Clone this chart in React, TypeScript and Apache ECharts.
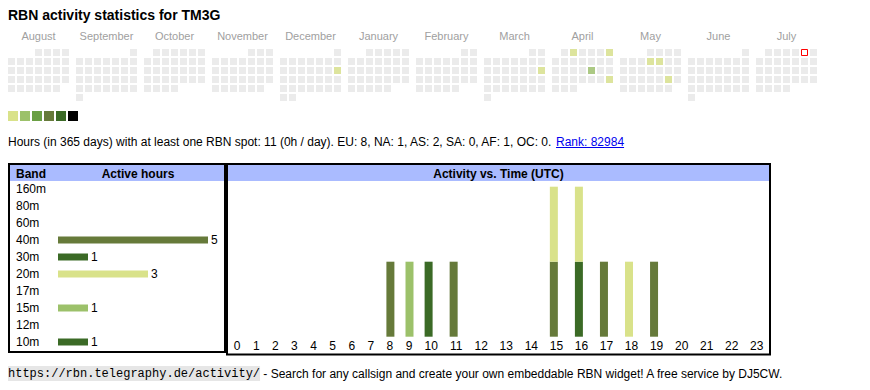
import React, { useEffect, useRef } from 'react';
import * as echarts from 'echarts';

const FONT = '"Liberation Sans", Arial, Helvetica, sans-serif';
const MONO = '"Liberation Mono", "Courier New", monospace';

const TITLE = 'RBN activity statistics for TM3G';
const MONTHS = ['2024-08', '2024-09', '2024-10', '2024-11', '2024-12', '2025-01', '2025-02', '2025-03', '2025-04', '2025-05', '2025-06', '2025-07'];
const MONTH_NAMES = ['August', 'September', 'October', 'November', 'December', 'January', 'February', 'March', 'April', 'May', 'June', 'July'];
const ACTIVE_DAYS = ['2024-12-15', '2025-03-16', '2025-04-02', '2025-04-06', '2025-04-18', '2025-04-27', '2025-05-08', '2025-05-09', '2025-05-24'];
const DAY_LEVELS = [1, 1, 1, 1, 2, 1, 1, 1, 1];
const TODAY = '2025-07-05';
const LEVEL_COLORS = ['#d9e28a', '#9cc16a', '#6a9f44', '#667a3a', '#3b6a26', '#000000'];

const BANDS = ['160m', '80m', '60m', '40m', '30m', '20m', '17m', '15m', '12m', '10m'];
const BAND_COLORS = ['#8a5a2a', '#b07a3a', '#c8a050', '#667a3a', '#3b6a26', '#d9e28a', '#6a9f44', '#9cc16a', '#5a8a3a', '#3b6a26'];
const BAND_HOURS: number[][] = [[], [], [], [8, 11, 15, 17, 19], [16], [15, 16, 18], [], [9], [], [10]];
const HOUR_LABELS = ['0', '1', '2', '3', '4', '5', '6', '7', '8', '9', '10', '11', '12', '13', '14', '15', '16', '17', '18', '19', '20', '21', '22', '23'];

const SUMMARY = 'Hours (in 365 days) with at least one RBN spot: 11 (0h / day). EU: 8, NA: 1, AS: 2, SA: 0, AF: 1, OC: 0. ';
const RANK = 'Rank: 82984';
const URL_TEXT = 'https://rbn.telegraphy.de/activity/';
const FOOTER = ' - Search for any callsign and create your own embeddable RBN widget! A free service by DJ5CW.';

function textWidth(t: string, font: string) {
  const ctx = document.createElement('canvas').getContext('2d');
  if (!ctx) return t.length * 6;
  ctx.font = font;
  return ctx.measureText(t).width;
}

export default function App() {
  const ref = useRef<HTMLDivElement>(null);
  useEffect(() => {
    if (!ref.current) return;
    const chart = echarts.init(ref.current, undefined, { renderer: 'svg' });

    // layout constants
    const CAL_LEFT = 7, CAL_TOP = 48, CELL = 9, MONTH_PITCH = 68;
    const ACT_LEFT = 227.6, ACT_TOP = 186.7, ACT_H = 150, BAR_W = 8;
    const cellW = (s: string) => (s.length === 1 ? 19.1 : 25.05);
    let acc = 0;
    const cellLeft = HOUR_LABELS.map((h) => { const l = acc; acc += cellW(h); return l; });
    const totalW = acc;
    const labelPos = HOUR_LABELS.map((h, i) => cellLeft[i] + cellW(h) / 2);
    const barPos = HOUR_LABELS.map((h, i) => cellLeft[i] + 10);

    const counts = BAND_HOURS.map((h) => h.length);
    const perHour = HOUR_LABELS.map((_, hi) => BAND_HOURS.reduce((s, hs) => s + (hs.includes(hi) ? 1 : 0), 0));
    const maxPerHour = Math.max(...perHour);

    const calendars = MONTHS.map((m, i) => ({
      orient: 'vertical', range: m, left: CAL_LEFT + i * MONTH_PITCH, top: CAL_TOP,
      cellSize: [CELL, CELL],
      dayLabel: { show: false, firstDay: 1 }, monthLabel: { show: false }, yearLabel: { show: false },
      splitLine: { show: false },
      itemStyle: { color: '#ebebeb', borderColor: '#ffffff', borderWidth: 2 },
      silent: true,
    }));
    const daySeries = MONTHS.map((m, i) => ({
      type: 'scatter', coordinateSystem: 'calendar', calendarIndex: i, silent: true,
      symbol: 'rect', symbolSize: CELL - 2,
      data: ACTIVE_DAYS.map((d, k) => ({ value: [d, DAY_LEVELS[k]], itemStyle: { color: LEVEL_COLORS[DAY_LEVELS[k] - 1] } }))
        .filter((r) => (r.value[0] as string).startsWith(m)),
    }));
    const todaySeries = {
      type: 'custom', coordinateSystem: 'calendar', calendarIndex: MONTHS.indexOf(TODAY.slice(0, 7)), silent: true,
      z: 10,
      data: [[TODAY]],
      renderItem: (params: any, api: any) => {
        const p = api.coord(api.value(0));
        const s = CELL - 3;
        return {
          type: 'rect',
          shape: { x: p[0] - s / 2, y: p[1] - s / 2, width: s, height: s },
          style: { fill: '#ffffff', stroke: '#ff0000', lineWidth: 1 },
        };
      },
    };
    const bandSeries = {
      type: 'bar', xAxisIndex: 0, yAxisIndex: 0, barWidth: 7, silent: true,
      data: counts.map((c, i) => (c > 0 ? { value: c, itemStyle: { color: BAND_COLORS[i] } } : '-')),
      label: { show: true, position: 'right', distance: 3, color: '#000', fontSize: 12, fontFamily: FONT },
    };
    // stacked hour activity: each band sits on top of the bands listed before it
    const actSeries = BANDS.map((b, bi) => ({
      type: 'custom', name: b, xAxisIndex: 1, yAxisIndex: 1, silent: true,
      encode: { x: 0, y: [1, 2] },
      data: BAND_HOURS[bi].map((hi) => {
        const base = BAND_HOURS.slice(0, bi).reduce((s, hs) => s + (hs.includes(hi) ? 1 : 0), 0);
        return [barPos[hi], base, base + 1];
      }),
      renderItem: (params: any, api: any) => {
        const x = api.value(0);
        const p0 = api.coord([x, api.value(1)]);
        const p1 = api.coord([x, api.value(2)]);
        return {
          type: 'rect',
          shape: { x: p0[0] - BAR_W / 2, y: p1[1], width: BAR_W, height: p0[1] - p1[1] },
          style: { fill: BAND_COLORS[bi] },
        };
      },
    }));

    const f12 = `12px ${FONT}`;
    const prefixW = textWidth(SUMMARY, f12);
    const rankW = textWidth(RANK, f12);

    const txt = (x: number, y: number, text: string, font: string, fill: string, align = 'left') => ({
      type: 'text', x, y, silent: true,
      style: { text, font, fill, align, textAlign: align, verticalAlign: 'middle', textVerticalAlign: 'middle' },
    });

    const graphics: any[] = [
      txt(8, 15, TITLE, `bold 14px ${FONT}`, '#000'),
      ...MONTH_NAMES.map((n, i) => txt(CAL_LEFT + i * MONTH_PITCH + (7 * CELL) / 2, 35.5, n, `11px ${FONT}`, '#a0a0a0', 'center')),
      ...LEVEL_COLORS.map((c, i) => ({ type: 'rect', silent: true, shape: { x: 8 + i * 12, y: 111, width: 10, height: 10 }, style: { fill: c } })),
      txt(8, 142, SUMMARY, f12, '#000'),
      txt(8 + prefixW, 142, RANK, f12, '#0000ee'),
      { type: 'line', silent: true, shape: { x1: 8 + prefixW, y1: 147.5, x2: 8 + prefixW + rankW, y2: 147.5 }, style: { stroke: '#0000ee', lineWidth: 1 } },
      // left box
      { type: 'rect', silent: true, shape: { x: 10, y: 165, width: 214, height: 16 }, style: { fill: '#aabbff' } },
      { type: 'rect', silent: true, shape: { x: 9, y: 164, width: 216, height: 188 }, style: { fill: 'none', stroke: '#000', lineWidth: 2 } },
      txt(16, 173.5, 'Band', `bold 12px ${FONT}`, '#000'),
      txt(138, 173.5, 'Active hours', `bold 12px ${FONT}`, '#000', 'center'),
      // right box
      { type: 'rect', silent: true, shape: { x: 228, y: 165, width: 541, height: 16 }, style: { fill: '#aabbff' } },
      { type: 'rect', silent: true, shape: { x: 227, y: 164, width: 543, height: 190.5 }, style: { fill: 'none', stroke: '#000', lineWidth: 2 } },
      txt(498.5, 173.5, 'Activity vs. Time (UTC)', `bold 12px ${FONT}`, '#000', 'center'),
      // footer
      {
        type: 'text', x: 8, y: 373.5, silent: true,
        style: {
          text: `{c|${URL_TEXT}}{t|${FOOTER}}`, verticalAlign: 'middle', textVerticalAlign: 'middle',
          rich: {
            c: { fontFamily: MONO, fontSize: 12, color: '#444', backgroundColor: '#e6e6e6', padding: [2, 0, 1, 0] },
            t: { fontFamily: FONT, fontSize: 12, color: '#000' },
          },
        },
      },
    ];

    const option: any = {
      animation: false,
      backgroundColor: '#ffffff',
      calendar: calendars,
      grid: [
        { left: 58, top: 180.5, width: 150, height: 170 },
        { left: ACT_LEFT, top: ACT_TOP, width: totalW, height: ACT_H },
      ],
      xAxis: [
        { type: 'value', gridIndex: 0, min: 0, max: Math.max(...counts), show: false },
        {
          type: 'value', gridIndex: 1, min: 0, max: totalW,
          axisLine: { show: false }, axisTick: { show: false }, splitLine: { show: false },
          axisLabel: {
            customValues: labelPos, margin: 3.3, fontSize: 12, fontFamily: FONT, color: '#000',
            verticalAlign: 'top',
            formatter: (v: number) => {
              let best = 0;
              labelPos.forEach((p, i) => { if (Math.abs(p - v) < Math.abs(labelPos[best] - v)) best = i; });
              return HOUR_LABELS[best];
            },
          },
        },
      ],
      yAxis: [
        {
          type: 'category', gridIndex: 0, data: BANDS, inverse: true,
          axisLine: { show: false }, axisTick: { show: false }, splitLine: { show: false },
          axisLabel: { align: 'left', margin: 42, fontSize: 12, fontFamily: FONT, color: '#000' },
        },
        { type: 'value', gridIndex: 1, min: 0, max: maxPerHour, show: false },
      ],
      graphic: graphics,
      series: [...daySeries, todaySeries, bandSeries, ...actSeries],
    };
    chart.setOption(option);
    return () => chart.dispose();
  }, []);
  return <div ref={ref} style={{ position: 'fixed', left: 0, top: 0, width: 870, height: 390, background: '#fff' }} />;
}
